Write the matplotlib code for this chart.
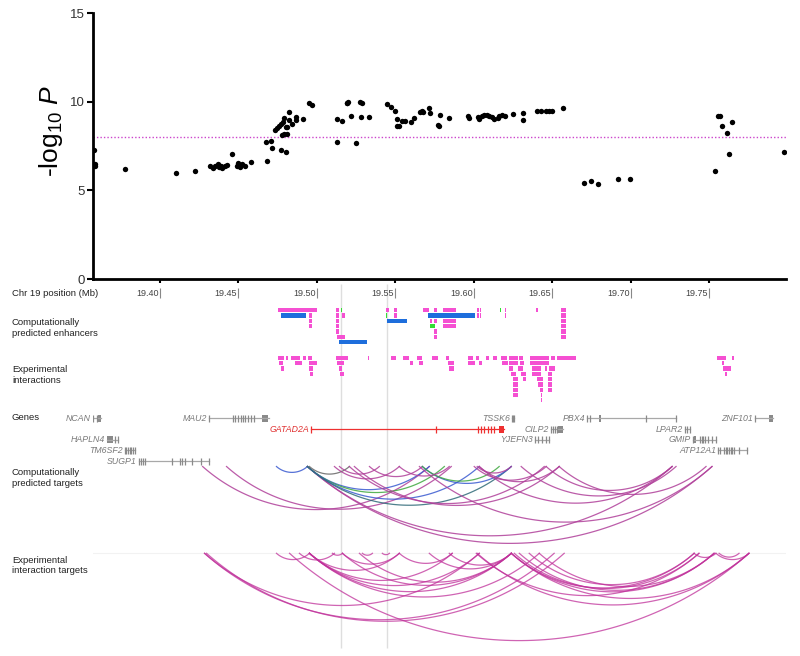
import numpy as np
import matplotlib.pyplot as plt

plt.rcParams['font.family'] = ['Liberation Sans', 'DejaVu Sans']
plt.rcParams['mathtext.fontset'] = 'custom'
plt.rcParams['mathtext.rm'] = 'Liberation Sans'
plt.rcParams['mathtext.it'] = 'Liberation Sans:italic'

# ---- association results (position in Mb, -log10 P) ----
pos_mb = [19.3582, 19.3587, 19.3590, 19.3777, 19.4104, 19.4225,
          19.4318, 19.4337, 19.4350, 19.4369, 19.4380, 19.4394, 19.4400, 19.4415, 19.4426,
          19.4464, 19.4490, 19.4496, 19.4505, 19.4510, 19.4522, 19.4541, 19.4579,
          19.4679, 19.4685, 19.4712, 19.4715, 19.4732, 19.4746, 19.4759, 19.4774, 19.4784,
          19.4770, 19.4782, 19.4790, 19.4795, 19.4802, 19.4812, 19.4802, 19.4814, 19.4827,
          19.4827, 19.4840, 19.4870, 19.4870, 19.4916, 19.4954, 19.4971,
          19.5132, 19.5132, 19.5164, 19.5190, 19.5202, 19.5195, 19.5220, 19.5253, 19.5279,
          19.5291, 19.5283, 19.5330, 19.5449, 19.5474, 19.5500, 19.5514, 19.5514,
          19.5527, 19.5546, 19.5565, 19.5601, 19.5622, 19.5658, 19.5671, 19.5679, 19.5718,
          19.5724, 19.5770, 19.5777, 19.5786, 19.5845, 19.5961, 19.5968,
          19.6025, 19.6036, 19.6053, 19.6067, 19.6082, 19.6099, 19.6116, 19.6131, 19.6152,
          19.6163, 19.6180, 19.6201, 19.6252, 19.6311, 19.6311,
          19.6400, 19.6428, 19.6460, 19.6477, 19.6498, 19.6570,
          19.6699, 19.6748, 19.6791, 19.6920, 19.6992,
          19.7537, 19.7558, 19.7567, 19.7583, 19.7611, 19.7628, 19.7647, 19.7976]
logp = [7.28, 6.5, 6.4, 6.2, 5.96, 6.09,
        6.38, 6.25, 6.4, 6.5, 6.3, 6.35, 6.25, 6.4, 6.42,
        7.05, 6.35, 6.55, 6.45, 6.3, 6.5, 6.4, 6.6,
        7.71, 6.67, 7.78, 7.39, 8.4, 8.5, 8.65, 8.75, 8.85,
        7.28, 8.1, 8.2, 9.1, 8.55, 8.55, 7.18, 8.2, 9.44,
        8.97, 8.74, 9.15, 8.97, 9.02, 9.9, 9.8,
        7.74, 9.02, 8.93, 9.94, 10.0, 9.95, 9.2, 7.67, 9.98,
        9.9, 9.15, 9.15, 9.87, 9.7, 9.5, 9.0, 8.6,
        8.6, 8.9, 8.93, 8.87, 9.1, 9.4, 9.5, 9.4, 9.63,
        9.35, 8.7, 8.6, 9.25, 9.1, 9.2, 9.1,
        9.15, 9.05, 9.2, 9.22, 9.25, 9.2, 9.15, 9.05, 9.1,
        9.2, 9.22, 9.18, 9.28, 9.38, 8.97,
        9.45, 9.5, 9.5, 9.48, 9.45, 9.63,
        5.43, 5.53, 5.34, 5.62, 5.64,
        6.11, 9.2, 9.18, 8.65, 8.22, 7.03, 8.84, 7.16]
threshold = 8.0
x_ticks = [19.40, 19.45, 19.50, 19.55, 19.60, 19.65, 19.70, 19.75]
y_ticks = [0, 5, 10, 15]
snp_lines = [19.5158, 19.5450]

# ---- computationally predicted enhancers (start, end, row) ----
enh_pink = [(19.4751, 19.4999, 0), (19.4954, 19.4973, 1), (19.4954, 19.4973, 2), (19.4954, 19.4973, 3),
            (19.5126, 19.5139, 0), (19.5126, 19.5139, 1), (19.5126, 19.5139, 2), (19.5126, 19.5139, 3),
            (19.5126, 19.5139, 4), (19.5132, 19.5183, 5), (19.5162, 19.5183, 1),
            (19.5444, 19.5463, 0), (19.5495, 19.5514, 0), (19.5495, 19.5514, 1),
            (19.5679, 19.5718, 0), (19.5749, 19.5768, 0), (19.5807, 19.5889, 0), (19.5807, 19.5889, 2),
            (19.5807, 19.5889, 3), (19.5720, 19.5737, 2), (19.5749, 19.5768, 2), (19.5749, 19.5768, 4),
            (19.5749, 19.5768, 5), (19.6023, 19.6032, 0), (19.6039, 19.6048, 0), (19.6023, 19.6032, 1),
            (19.6039, 19.6048, 1), (19.6202, 19.6207, 0), (19.6202, 19.6207, 1), (19.6398, 19.6411, 0),
            (19.6557, 19.6589, 0), (19.6557, 19.6589, 1), (19.6557, 19.6589, 2), (19.6557, 19.6589, 3),
            (19.6557, 19.6589, 4), (19.6557, 19.6589, 5)]
enh_blue = [(19.4776, 19.4929, 1), (19.5139, 19.5323, 6), (19.5450, 19.5578, 2), (19.5711, 19.6010, 1)]
enh_green = [(19.5154, 19.5159, 0), (19.5444, 19.5449, 1), (19.5724, 19.5756, 3), (19.6166, 19.6171, 0)]

# ---- experimental interactions (start, end, row) ----
exp_blocks = [
    (19.4752, 19.4795, 0), (19.4806, 19.4820, 0), (19.4838, 19.4897, 0), (19.4911, 19.4933, 0),
    (19.4943, 19.4971, 0), (19.5124, 19.5198, 0), (19.5325, 19.5336, 0), (19.5474, 19.5505, 0),
    (19.5552, 19.5590, 0), (19.5639, 19.5668, 0), (19.5734, 19.5774, 0), (19.5823, 19.5844, 0),
    (19.5961, 19.5993, 0), (19.6014, 19.6035, 0), (19.6078, 19.6094, 0), (19.6124, 19.6148, 0),
    (19.6173, 19.6211, 0), (19.6222, 19.6279, 0), (19.6290, 19.6311, 0), (19.6358, 19.6406, 0),
    (19.6410, 19.6480, 0), (19.6495, 19.6517, 0), (19.6529, 19.6654, 0), (19.7551, 19.7608, 0),
    (19.7646, 19.7657, 0),
    (19.4757, 19.4784, 1), (19.4859, 19.4905, 1), (19.4948, 19.5003, 1), (19.5130, 19.5177, 1),
    (19.5594, 19.5615, 1), (19.5654, 19.5675, 1), (19.5834, 19.5876, 1), (19.5965, 19.6008, 1),
    (19.6031, 19.6050, 1), (19.6180, 19.6215, 1), (19.6222, 19.6279, 1), (19.6296, 19.6321, 1),
    (19.6358, 19.6406, 1), (19.6410, 19.6480, 1), (19.7579, 19.7593, 1),
    (19.4770, 19.4791, 2), (19.4954, 19.4975, 2), (19.5145, 19.5162, 2), (19.5840, 19.5872, 2),
    (19.6226, 19.6251, 2), (19.6283, 19.6311, 2), (19.6374, 19.6428, 2), (19.6451, 19.6466, 2),
    (19.6480, 19.6517, 2), (19.7587, 19.7636, 2),
    (19.4958, 19.4979, 3), (19.5149, 19.5172, 3), (19.6237, 19.6269, 3), (19.6304, 19.6332, 3),
    (19.6374, 19.6428, 3), (19.6470, 19.6498, 3), (19.7600, 19.7611, 3),
    (19.6251, 19.6279, 4), (19.6315, 19.6332, 4), (19.6400, 19.6442, 4), (19.6470, 19.6498, 4),
    (19.6251, 19.6279, 5), (19.6410, 19.6444, 5), (19.6470, 19.6498, 5),
    (19.6251, 19.6279, 6), (19.6421, 19.6438, 6), (19.6470, 19.6498, 6),
    (19.6251, 19.6279, 7), (19.6428, 19.6433, 7), (19.6428, 19.6433, 8)]

# ---- genes ----
gene_names = ['NCAN', 'MAU2', 'GATAD2A', 'HAPLN4', 'TM6SF2', 'SUGP1', 'TSSK6', 'CILP2',
              'YJEFN3', 'PBX4', 'LPAR2', 'GMIP', 'ATP12A1', 'ZNF101']
gene_start = [19.3576, 19.4314, 19.4965, 19.3665, 19.3777, 19.3868, 19.6245, 19.6491,
              19.6389, 19.6724, 19.7343, 19.7398, 19.7557, 19.7791]
gene_end = [19.3629, 19.4695, 19.6194, 19.3735, 19.3841, 19.4312, 19.6256, 19.6571,
            19.6480, 19.7290, 19.7375, 19.7541, 19.7742, 19.7907]
gene_row = [0, 0, 1, 2, 3, 4, 0, 1, 2, 0, 1, 2, 3, 0]
gene_exons = [
    [19.3578, 19.3600],
    [19.4314, 19.4466, 19.4481, 19.4498, 19.4520, 19.4530, 19.4545, 19.4562, 19.4583, 19.4604],
    [19.4965, 19.5759, 19.6024, 19.6045, 19.6067, 19.6088, 19.6109, 19.6131],
    [19.3714, 19.3735],
    [19.3777, 19.3788, 19.3798, 19.3809, 19.3820, 19.3830, 19.3841],
    [19.3868, 19.3879, 19.3892, 19.3905, 19.4081, 19.4127, 19.4144, 19.4159, 19.4208, 19.4261, 19.4312],
    [19.6245, 19.6250, 19.6256],
    [19.6491, 19.6505, 19.6518, 19.6531],
    [19.6389, 19.6410, 19.6434, 19.6457, 19.6480],
    [19.6724, 19.6738, 19.7099, 19.7290],
    [19.7343, 19.7358, 19.7375],
    [19.7398, 19.7441, 19.7452, 19.7462, 19.7473, 19.7494, 19.7515, 19.7541],
    [19.7557, 19.7568, 19.7593, 19.7604, 19.7614, 19.7625, 19.7636, 19.7646, 19.7657, 19.7689, 19.7742],
    [19.7791]]
gene_blocks = [[(19.3610, 19.3629)], [(19.4653, 19.4689)], [(19.6158, 19.6194)],
               [(19.3665, 19.3703)], [], [], [], [(19.6537, 19.6571)], [],
               [(19.6798, 19.6811)], [], [(19.7405, 19.7413)], [], [(19.7880, 19.7907)]]

# ---- arcs: (start, end, colour key) ----
pred_arcs = [(19.4274, 19.5717, 'm'), (19.4426, 19.5857, 'm'), (19.4744, 19.4941, 'b'),
             (19.4941, 19.7517, 'm'), (19.4941, 19.7263, 'm'), (19.4941, 19.5717, 'b'),
             (19.4941, 19.5813, 'g'), (19.4941, 19.6035, 'b'), (19.4941, 19.6239, 'd'),
             (19.4954, 19.5208, 'k'), (19.5113, 19.5526, 'm'), (19.5145, 19.5399, 'm'),
             (19.5208, 19.6449, 'm'), (19.5240, 19.6544, 'm'), (19.5336, 19.5673, 'm'),
             (19.5673, 19.6239, 'b'), (19.5673, 19.6162, 'g'), (19.6003, 19.6461, 'm'),
             (19.6022, 19.6239, 'm'), (19.6035, 19.6544, 'm'), (19.6461, 19.7263, 'm'),
             (19.6544, 19.7479, 'm'), (19.5654, 19.7517, 'm'), (19.6302, 19.7288, 'm'),
             (19.6035, 19.7263, 'm'), (19.5526, 19.5844, 'm')]
exp_arcs = [(19.4286, 19.6512), (19.4299, 19.6576), (19.4286, 19.6035), (19.4827, 19.7752),
            (19.4954, 19.6035), (19.4954, 19.6239), (19.4954, 19.6417), (19.4744, 19.4954),
            (19.4890, 19.5113), (19.5100, 19.5164), (19.5164, 19.5526), (19.5291, 19.5355),
            (19.5418, 19.5463), (19.4954, 19.5863), (19.5526, 19.5863), (19.6239, 19.7403),
            (19.6258, 19.7434), (19.6290, 19.7530), (19.6239, 19.7530), (19.6239, 19.7752),
            (19.6353, 19.7403), (19.6417, 19.7530), (19.6022, 19.7752), (19.6016, 19.7434),
            (19.7403, 19.7542), (19.7542, 19.7752), (19.7562, 19.7689), (19.5717, 19.6239),
            (19.5844, 19.6239), (19.5164, 19.6239), (19.5272, 19.6239), (19.4954, 19.5526)]

XMIN, XMAX = 19.3576, 19.7988
PINK, BLUE, GREEN = '#f550d2', '#1e6edc', '#33dd33'
arc_cols = {'m': '#b0409a', 'b': '#3a5ad0', 'g': '#3fa83f', 'd': '#2f6a78', 'k': '#666666'}

fig = plt.figure(figsize=(8, 6.56), dpi=100)

# ---------------- association plot ----------------
ax = fig.add_axes([93 / 800, 1 - 279 / 656, 693 / 800, 266 / 656])
ax.scatter(pos_mb, logp, s=15, color='black', zorder=3, linewidths=0)
ax.axhline(threshold, color='#cc44cc', lw=1, ls=(0, (1, 1.5)))
ax.set_xlim(XMIN, XMAX)
ax.set_ylim(0, 15)
ax.set_yticks(y_ticks)
ax.set_xticks(x_ticks)
ax.set_xticklabels([])
ax.tick_params(axis='y', labelsize=9.5, labelcolor='#333333', length=4, width=1.5, pad=2)
ax.tick_params(axis='x', length=3, width=1.5)
for sp in ['top', 'right']:
    ax.spines[sp].set_visible(False)
for sp in ['left', 'bottom']:
    ax.spines[sp].set_linewidth(2)
ax.set_ylabel(r'-log$_{\mathregular{10}}$ $\mathit{P}$', fontsize=19)
ax.yaxis.set_label_coords(-0.04, 0.556)

# ---------------- tracks ----------------
ax2 = fig.add_axes([93 / 800, 0, 693 / 800, 1 - 283 / 656])
ax2.set_xlim(XMIN, XMAX)
ax2.set_ylim(656, 283)
ax2.axis('off')
px_per_mb = 693 / (XMAX - XMIN)

for x in snp_lines:
    ax2.vlines(x, 284, 648, color='#dedede', lw=1, zorder=0)

# position ruler
for x in x_ticks:
    ax2.text(x - 0.0008, 293, f'{x:.2f}', ha='right', va='center', fontsize=6.5, color='#444444')
    ax2.vlines(x, 288, 298, color='#888888', lw=0.8)

# enhancers / interactions
ENH_TOP, EXP_TOP, ROW_STEP, BLOCK_H = 308, 355.7, 5.3, 4.4


def draw_blocks(blocks, top, color):
    for s, e, r in blocks:
        ax2.bar(s, BLOCK_H, width=max(e - s, 0.0005), bottom=top + r * ROW_STEP,
                align='edge', color=color, linewidth=0)


draw_blocks(enh_pink, ENH_TOP, PINK)
draw_blocks(enh_blue, ENH_TOP, BLUE)
draw_blocks(enh_green, ENH_TOP, GREEN)
draw_blocks(exp_blocks, EXP_TOP, PINK)

# genes
GENE_Y0, GENE_STEP = 418.3, 10.7
for name, s, e, r, ex, bl in zip(gene_names, gene_start, gene_end, gene_row, gene_exons, gene_blocks):
    y = GENE_Y0 + r * GENE_STEP
    col = '#ee3030' if name == 'GATAD2A' else '#8a8a8a'
    lcol = '#ee3030' if name == 'GATAD2A' else '#a8a8a8'
    ax2.plot([s, e], [y, y], color=lcol, lw=0.9)
    ax2.vlines(ex, y - 3.5, y + 3.5, color=col, lw=0.9)
    for bs, be in bl:
        ax2.bar(bs, 7, width=be - bs, bottom=y - 3.5, align='edge', color=col, linewidth=0)
    ax2.annotate(name, (s, y), xytext=(-1.5, 0), textcoords='offset points', ha='right',
                 va='center', fontsize=6.3, style='italic',
                 color='#e03030' if name == 'GATAD2A' else '#7a7a7a')


# arcs: circular segments hanging below a baseline, sag = 0.19 * chord
def draw_arc(s, e, base, color, lw, alpha):
    chord = (e - s) * px_per_mb
    sag = 0.19 * chord
    rad = (chord ** 2 / 4 + sag ** 2) / (2 * sag)
    half = np.arcsin(chord / 2 / rad)
    th = np.linspace(-half, half, 90)
    xs = (s + e) / 2 + rad * np.sin(th) / px_per_mb
    ys = base + sag - rad + rad * np.cos(th)
    ax2.plot(xs, ys, color=color, lw=lw, alpha=alpha)


PRED_BASE, EXP_BASE = 466.5, 553.3
for s, e, k in pred_arcs:
    draw_arc(s, e, PRED_BASE, arc_cols[k], 0.9, 0.85)
ax2.plot([XMIN, XMAX], [EXP_BASE, EXP_BASE], color='#f2f2f2', lw=0.8, zorder=0)
for s, e in exp_arcs:
    draw_arc(s, e, EXP_BASE, '#c0309a', 0.9, 0.75)

# left labels
labels = ['Chr 19 position (Mb)', 'Computationally\npredicted enhancers', 'Experimental\ninteractions',
          'Genes', 'Computationally\npredicted targets', 'Experimental\ninteraction targets']
label_y = [293, 328, 375, 418, 478, 565.5]
for txt, py in zip(labels, label_y):
    fig.text(12 / 800, 1 - py / 656, txt, ha='left', va='center', fontsize=6.8,
             color='#222222', linespacing=1.15)

fig.savefig('out.png', dpi=100)
